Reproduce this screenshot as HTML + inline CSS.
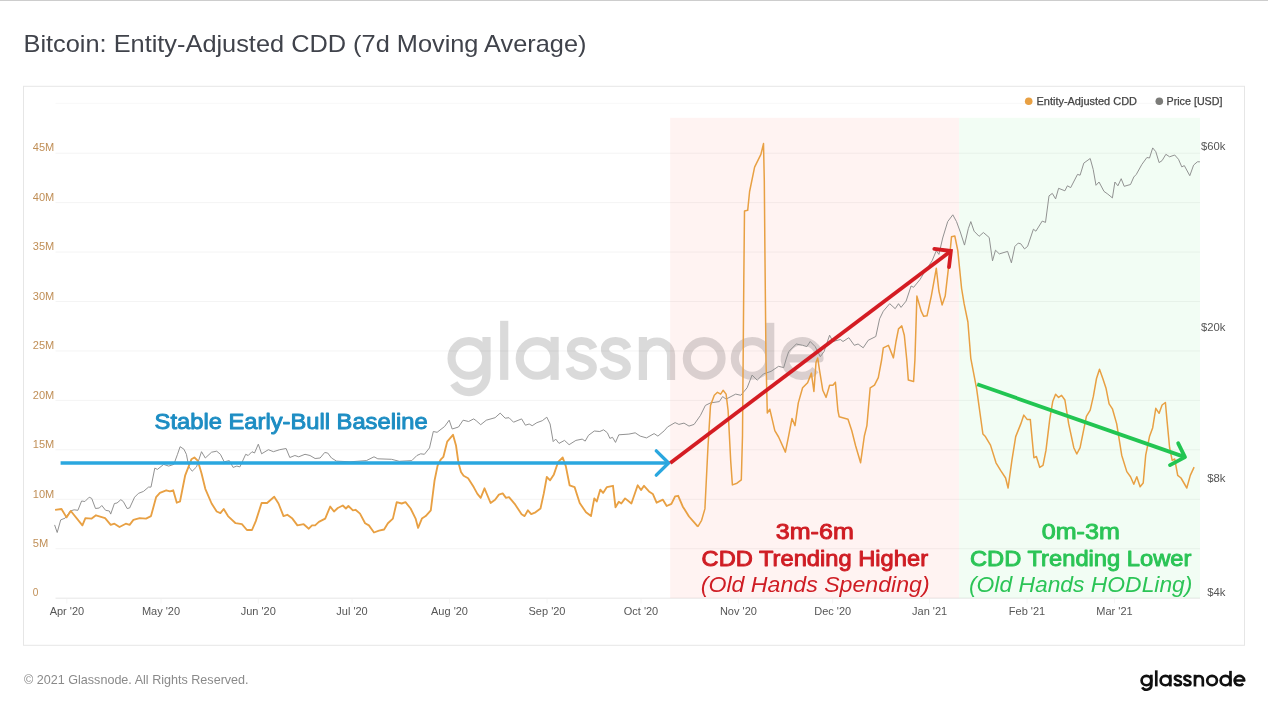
<!DOCTYPE html>
<html><head><meta charset="utf-8"><title>Bitcoin: Entity-Adjusted CDD (7d Moving Average)</title>
<style>html,body{margin:0;padding:0;background:#fff;}body{width:1268px;height:714px;overflow:hidden;font-family:"Liberation Sans",sans-serif;}svg{display:block;will-change:transform;}text{font-family:"Liberation Sans",sans-serif;}</style>
</head><body>
<svg width="1268" height="714" viewBox="0 0 1268 714">
<defs>
<g id="gn" fill="none" stroke-linecap="butt" stroke-linejoin="round">
<circle cx="468.9" cy="358.4" r="17.35"/>
<path d="M486.5,336.9 V374.5 A17.5,17.5 0 0 1 453.8,383.3"/>
<path d="M504.2,320.8 V379.9"/>
<circle cx="537.1" cy="358.4" r="17.35"/>
<path d="M554.6,336.9 V379.9"/>
<path id="gs" d="M593.5,348.5 C591.5,343.5 587,341 581.8,341 C575.5,341 571,344.5 571,349.3 C571,354.5 575.5,356.5 582,358.3 C589,360.3 592.8,362.5 592.8,367.5 C592.8,372.5 588,375.8 581.8,375.8 C575.5,375.8 571,372.5 569.5,367.5"/>
<use href="#gs" x="34"/>
<path d="M642.9,379.9 V336.9 M642.9,355.2 A14.08,14.08 0 0 1 671.05,355.2 V379.9"/>
<circle cx="704.2" cy="358.4" r="17.35"/>
<circle cx="752.2" cy="358.4" r="17.35"/>
<path d="M770.2,322.8 V379.9"/>
<path d="M785.5,358.4 H819.5 A17.35,17.35 0 1 0 815.5,369.6"/>
</g>
</defs>
<rect x="0" y="0" width="1268" height="1" fill="#cdcdcd"/>
<text x="23.5" y="51.7" font-size="23.2" fill="#40434b" textLength="563" lengthAdjust="spacingAndGlyphs">Bitcoin: Entity-Adjusted CDD (7d Moving Average)</text>
<rect x="23.5" y="86.3" width="1221" height="559" fill="#fff" stroke="#e6e6e6" stroke-width="1"/>
<rect x="670.2" y="117.8" width="288.9" height="480.4" fill="#fff3f2"/>
<rect x="959.1" y="117.8" width="240.9" height="480.4" fill="#f2fdf4"/>
<line x1="55.5" y1="103.30" x2="1200" y2="103.30" stroke="#000" stroke-opacity="0.03" stroke-width="1"/>
<line x1="55.5" y1="153.20" x2="1200" y2="153.20" stroke="#000" stroke-opacity="0.047" stroke-width="1"/>
<line x1="55.5" y1="202.64" x2="1200" y2="202.64" stroke="#000" stroke-opacity="0.047" stroke-width="1"/>
<line x1="55.5" y1="252.08" x2="1200" y2="252.08" stroke="#000" stroke-opacity="0.047" stroke-width="1"/>
<line x1="55.5" y1="301.52" x2="1200" y2="301.52" stroke="#000" stroke-opacity="0.047" stroke-width="1"/>
<line x1="55.5" y1="350.96" x2="1200" y2="350.96" stroke="#000" stroke-opacity="0.047" stroke-width="1"/>
<line x1="55.5" y1="400.40" x2="1200" y2="400.40" stroke="#000" stroke-opacity="0.047" stroke-width="1"/>
<line x1="55.5" y1="449.84" x2="1200" y2="449.84" stroke="#000" stroke-opacity="0.047" stroke-width="1"/>
<line x1="55.5" y1="499.28" x2="1200" y2="499.28" stroke="#000" stroke-opacity="0.047" stroke-width="1"/>
<line x1="55.5" y1="548.72" x2="1200" y2="548.72" stroke="#000" stroke-opacity="0.047" stroke-width="1"/>
<line x1="55.5" y1="598.16" x2="1200" y2="598.16" stroke="#000" stroke-opacity="0.1" stroke-width="1"/>
<use href="#gn" stroke="#000" opacity="0.14" stroke-width="8.2"/>
<text x="32.8" y="151.4" font-size="10.6" fill="#c08f57" textLength="21.5" lengthAdjust="spacingAndGlyphs">45M</text>
<text x="32.8" y="200.8" font-size="10.6" fill="#c08f57" textLength="21.5" lengthAdjust="spacingAndGlyphs">40M</text>
<text x="32.8" y="250.3" font-size="10.6" fill="#c08f57" textLength="21.5" lengthAdjust="spacingAndGlyphs">35M</text>
<text x="32.8" y="299.7" font-size="10.6" fill="#c08f57" textLength="21.5" lengthAdjust="spacingAndGlyphs">30M</text>
<text x="32.8" y="349.2" font-size="10.6" fill="#c08f57" textLength="21.5" lengthAdjust="spacingAndGlyphs">25M</text>
<text x="32.8" y="398.6" font-size="10.6" fill="#c08f57" textLength="21.5" lengthAdjust="spacingAndGlyphs">20M</text>
<text x="32.8" y="448.0" font-size="10.6" fill="#c08f57" textLength="21.5" lengthAdjust="spacingAndGlyphs">15M</text>
<text x="32.8" y="497.5" font-size="10.6" fill="#c08f57" textLength="21.5" lengthAdjust="spacingAndGlyphs">10M</text>
<text x="32.8" y="546.9" font-size="10.6" fill="#c08f57" textLength="15.5" lengthAdjust="spacingAndGlyphs">5M</text>
<text x="32.8" y="596.4" font-size="10.6" fill="#c08f57" textLength="5.6" lengthAdjust="spacingAndGlyphs">0</text>
<text x="1201.1" y="150.0" font-size="10.6" fill="#555" textLength="24.4" lengthAdjust="spacingAndGlyphs">$60k</text>
<text x="1201.1" y="330.7" font-size="10.6" fill="#555" textLength="24.4" lengthAdjust="spacingAndGlyphs">$20k</text>
<text x="1207.2" y="481.8" font-size="10.6" fill="#555" textLength="18.3" lengthAdjust="spacingAndGlyphs">$8k</text>
<text x="1207.2" y="595.9" font-size="10.6" fill="#555" textLength="18.3" lengthAdjust="spacingAndGlyphs">$4k</text>
<line x1="66.9" y1="599" x2="66.9" y2="603.5" stroke="#f6f6f6" stroke-width="1"/>
<text x="66.9" y="615.3" font-size="11" fill="#565656" text-anchor="middle">Apr '20</text>
<line x1="161" y1="599" x2="161" y2="603.5" stroke="#f6f6f6" stroke-width="1"/>
<text x="161" y="615.3" font-size="11" fill="#565656" text-anchor="middle">May '20</text>
<line x1="258.3" y1="599" x2="258.3" y2="603.5" stroke="#f6f6f6" stroke-width="1"/>
<text x="258.3" y="615.3" font-size="11" fill="#565656" text-anchor="middle">Jun '20</text>
<line x1="352" y1="599" x2="352" y2="603.5" stroke="#f6f6f6" stroke-width="1"/>
<text x="352" y="615.3" font-size="11" fill="#565656" text-anchor="middle">Jul '20</text>
<line x1="449.5" y1="599" x2="449.5" y2="603.5" stroke="#f6f6f6" stroke-width="1"/>
<text x="449.5" y="615.3" font-size="11" fill="#565656" text-anchor="middle">Aug '20</text>
<line x1="547" y1="599" x2="547" y2="603.5" stroke="#f6f6f6" stroke-width="1"/>
<text x="547" y="615.3" font-size="11" fill="#565656" text-anchor="middle">Sep '20</text>
<line x1="641" y1="599" x2="641" y2="603.5" stroke="#f6f6f6" stroke-width="1"/>
<text x="641" y="615.3" font-size="11" fill="#565656" text-anchor="middle">Oct '20</text>
<line x1="738.4" y1="599" x2="738.4" y2="603.5" stroke="#f6f6f6" stroke-width="1"/>
<text x="738.4" y="615.3" font-size="11" fill="#565656" text-anchor="middle">Nov '20</text>
<line x1="832.7" y1="599" x2="832.7" y2="603.5" stroke="#f6f6f6" stroke-width="1"/>
<text x="832.7" y="615.3" font-size="11" fill="#565656" text-anchor="middle">Dec '20</text>
<line x1="929.6" y1="599" x2="929.6" y2="603.5" stroke="#f6f6f6" stroke-width="1"/>
<text x="929.6" y="615.3" font-size="11" fill="#565656" text-anchor="middle">Jan '21</text>
<line x1="1027" y1="599" x2="1027" y2="603.5" stroke="#f6f6f6" stroke-width="1"/>
<text x="1027" y="615.3" font-size="11" fill="#565656" text-anchor="middle">Feb '21</text>
<line x1="1114.5" y1="599" x2="1114.5" y2="603.5" stroke="#f6f6f6" stroke-width="1"/>
<text x="1114.5" y="615.3" font-size="11" fill="#565656" text-anchor="middle">Mar '21</text>
<circle cx="1028.7" cy="101.3" r="3.8" fill="#e8a043"/>
<text x="1036.5" y="105" font-size="10.4" fill="#444" stroke="#444" stroke-width="0.25" textLength="100.5" lengthAdjust="spacingAndGlyphs">Entity-Adjusted CDD</text>
<circle cx="1159.3" cy="101.2" r="3.8" fill="#7b7b78"/>
<text x="1166.5" y="105" font-size="10.4" fill="#444" stroke="#444" stroke-width="0.25" textLength="56" lengthAdjust="spacingAndGlyphs">Price [USD]</text>
<polyline points="54.6,524.9 57.2,532.5 60.7,519.9 65.2,518.1 70.3,511.0 74.1,509.8 77.9,510.3 81.6,501.0 84.9,501.5 89.2,497.2 91.7,498.4 95.5,508.5 99.3,508.0 101.8,505.5 105.6,510.3 109.4,511.0 110.7,514.1 114.4,503.5 117.0,503.0 120.8,499.7 123.3,501.5 127.1,508.5 129.6,508.0 134.6,497.2 138.4,493.4 143.5,491.4 148.5,487.1 151.0,487.1 154.8,468.1 157.4,469.4 163.7,464.4 168.7,466.1 173.8,464.4 177.5,454.3 180.1,446.7 183.9,449.2 186.4,454.3 188.9,466.9 192.2,471.2 196.5,466.9 201.5,451.7 205.3,458.0 211.6,452.2 216.7,451.2 220.4,454.3 224.2,461.8 229.3,460.6 233.1,467.4 236.8,466.1 239.9,466.9 245.7,454.3 248.2,455.5 252.0,451.7 254.5,453.0 258.3,444.2 261.6,453.8 268.4,449.7 273.4,451.7 279.7,449.7 286.1,448.5 289.8,457.5 294.9,455.5 298.7,456.8 305.0,454.3 310.0,455.5 315.1,458.5 320.1,458.0 324.7,452.5 327.7,453.0 331.5,458.0 336.5,461.1 350.0,461.8 366.4,460.6 374.0,456.8 377.8,458.8 391.6,459.3 399.2,461.3 411.8,460.6 416.9,455.5 420.7,453.8 424.4,454.3 429.5,447.9 433.3,431.5 437.1,432.3 444.6,426.5 449.2,420.2 452.2,429.0 458.5,427.0 463.1,420.2 468.6,421.5 473.7,418.9 476.2,420.7 480.7,424.7 486.3,420.2 495.1,417.7 500.2,413.1 505.2,418.2 509.0,417.7 513.5,422.2 521.6,418.9 525.4,425.2 529.2,424.0 532.2,425.7 536.8,422.7 542.3,420.7 546.8,417.2 550.1,424.0 553.2,441.6 555.7,439.1 559.0,443.4 564.5,440.4 569.1,444.7 575.9,440.4 582.2,439.1 585.2,441.1 588.5,435.3 594.3,431.0 599.8,431.5 603.6,429.8 607.4,432.8 609.9,438.4 612.5,437.3 615.5,442.4 618.8,434.8 628.9,434.1 635.2,432.8 640.2,436.1 646.5,437.9 654.1,433.6 657.9,436.1 664.2,430.8 667.6,426.9 675.1,422.6 678.9,424.4 684.0,423.1 689.0,426.1 694.1,424.4 700.4,415.5 705.4,405.4 710.5,402.9 719.3,401.6 722.6,396.6 726.1,399.1 735.7,394.1 740.8,395.3 747.1,387.8 752.1,375.1 757.2,380.2 763.5,373.9 771.0,371.4 778.6,366.3 783.7,367.6 786.2,359.0 788.7,351.6 796.3,344.0 802.6,345.3 806.9,346.6 810.2,341.5 815.2,346.6 820.3,356.7 824.0,351.6 829.6,335.2 832.9,341.5 840.4,339.5 843.0,341.5 848.8,337.7 854.3,345.3 858.1,344.0 863.2,347.8 868.2,340.3 875.8,336.5 879.6,318.8 883.3,311.2 889.7,303.7 895.2,308.7 898.5,303.7 901.0,307.4 906.1,301.1 911.1,286.0 913.6,287.3 919.9,279.7 923.7,273.4 932.1,260.8 936.3,250.7 938.9,254.4 942.7,238.0 947.7,221.6 952.8,214.8 956.5,221.6 960.3,232.0 964.5,245.1 968.3,228.7 970.8,221.6 974.1,231.2 979.1,236.3 983.4,232.5 989.2,237.5 992.5,260.8 995.5,250.2 999.3,253.9 1007.6,251.4 1011.4,262.8 1014.9,246.4 1018.2,243.1 1020.8,243.8 1024.5,248.9 1027.6,246.4 1033.4,229.2 1035.9,231.2 1042.2,221.1 1045.5,222.4 1049.0,195.9 1052.3,193.4 1055.6,198.9 1058.6,188.3 1064.9,190.8 1067.4,185.8 1070.7,187.6 1077.5,174.4 1080.1,175.2 1083.8,163.1 1090.2,158.5 1093.2,169.4 1096.0,185.3 1099.0,182.0 1104.0,191.4 1107.8,194.1 1112.4,197.9 1114.9,182.0 1117.9,185.8 1121.2,178.7 1124.2,186.3 1130.5,184.5 1133.8,177.0 1136.3,174.4 1141.9,164.4 1146.9,157.5 1149.5,158.0 1152.7,147.9 1155.8,151.7 1159.1,162.6 1162.1,160.6 1165.9,154.3 1169.6,156.8 1174.7,155.0 1178.5,159.3 1181.8,166.9 1184.3,165.6 1189.8,175.7 1193.6,165.1 1197.4,161.8 1199.9,161.8" fill="none" stroke="#8c8c8c" stroke-width="0.95" stroke-linejoin="round"/>
<polyline points="55.1,509.8 61.5,509.0 66.5,517.4 70.8,511.0 82.4,525.4 85.4,518.1 91.7,518.6 96.0,515.3 105.1,518.1 110.7,524.9 114.4,523.7 119.5,527.0 125.8,523.7 129.6,524.9 133.4,519.9 139.7,518.1 146.0,518.6 151.0,516.1 156.1,497.2 159.9,492.9 166.2,490.3 170.0,491.4 173.2,490.3 176.8,502.7 180.0,501.5 185.1,475.7 191.4,459.3 194.4,457.5 197.7,460.6 201.5,473.2 205.3,488.8 211.6,503.5 216.7,511.5 220.4,513.1 223.7,509.0 228.0,516.1 235.6,523.2 241.9,524.2 246.9,530.0 252.0,530.0 255.8,521.1 261.6,503.0 267.1,503.0 274.2,496.7 278.5,503.5 283.5,516.1 287.3,514.8 292.4,518.6 297.4,525.4 303.7,524.2 308.8,528.7 312.0,525.4 315.1,525.4 318.9,521.9 325.2,518.6 330.2,506.5 334.0,511.5 337.8,508.0 342.8,505.5 345.9,508.5 348.4,506.0 352.9,510.3 355.5,509.8 360.0,513.6 365.1,523.2 368.9,525.4 374.0,532.5 379.0,530.7 384.1,529.5 387.9,523.2 392.9,518.6 396.7,502.2 401.7,503.5 405.5,502.2 410.6,508.5 415.6,518.6 418.1,527.9 421.9,518.6 425.7,516.1 430.8,510.3 434.5,480.8 437.6,465.6 440.9,459.3 443.4,456.8 447.2,441.6 450.4,437.9 453.0,434.8 456.0,445.4 458.5,463.1 461.0,471.9 463.6,475.7 468.1,478.2 473.7,487.1 477.4,493.9 480.7,497.9 484.5,488.3 490.6,503.0 495.1,499.7 498.9,494.6 502.7,493.4 506.0,497.9 509.0,497.2 515.3,504.7 521.6,514.3 524.6,516.1 527.9,510.3 531.2,514.1 535.5,512.3 540.5,508.5 543.8,493.4 546.8,477.0 550.1,480.3 553.9,474.4 558.2,461.8 562.7,457.5 565.8,466.1 569.6,485.3 574.6,487.1 579.7,503.0 586.0,512.3 591.0,516.1 594.3,498.4 596.8,501.5 600.3,489.6 603.1,492.9 606.9,487.1 613.0,485.8 615.5,507.3 618.8,501.7 621.3,503.5 625.1,498.4 631.4,503.5 637.7,485.3 641.0,490.1 644.0,485.8 649.0,491.4 652.8,493.9 656.6,502.7 662.9,499.7 666.7,506.0 671.4,503.8 675.1,496.3 678.2,495.8 682.7,506.4 689.0,516.5 697.9,526.6" fill="none" stroke="#e8a043" stroke-width="1.85" stroke-linejoin="round"/>
<polyline points="697.9,526.6 701.6,520.3 704.9,508.9 707.9,448.3 710.5,405.4 714.3,395.3 717.5,392.3 720.6,394.1 723.1,390.3 726.1,394.1 728.1,410.5 730.7,460.9 732.4,484.9 737.0,483.2 741.3,479.9 742.5,435.7 743.8,281.0 744.5,211.0 747.7,210.3 749.6,191.5 754.6,167.1 760.9,154.4 763.5,143.6 764.3,181.0 765.0,260.0 766.0,360.0 767.3,413.0 769.8,409.2 774.8,430.7 778.6,437.0 785.4,452.1 788.7,435.7 792.0,418.5 795.0,425.6 798.3,402.9 802.6,387.8 807.6,382.7 811.4,373.1 813.9,391.5 816.0,362.5 817.7,358.0 819.5,370.1 822.8,390.3 826.1,397.4 829.6,385.2 832.9,385.2 835.4,382.2 837.9,410.5 839.2,416.8 848.0,419.3 851.8,430.7 855.6,445.8 860.6,462.7 864.4,435.7 866.9,425.6 870.2,387.8 874.5,385.2 878.3,377.7 881.6,360.0 883.3,347.8 888.4,345.3 893.4,357.9 896.0,341.5 898.5,328.9 901.8,325.9 904.3,335.2 906.8,360.0 908.3,380.0 913.6,381.5 914.9,360.0 916.9,296.1 921.2,311.2 923.7,316.3 927.0,315.8 931.3,296.1 936.3,268.3 938.9,291.0 942.1,304.9 945.2,296.1 949.0,263.3 951.5,236.8 954.8,236.0 957.8,250.7 961.6,288.5 964.1,303.7 967.9,322.0 970.8,358.3 976.6,388.6 982.9,434.0 985.4,436.6 990.5,445.1 996.0,462.8 1000.6,470.4 1005.6,478.0 1008.1,488.0 1011.9,460.3 1015.7,436.6 1020.8,423.9 1023.8,415.1 1027.1,419.4 1030.3,419.4 1033.9,457.8 1036.4,456.5 1039.7,467.4 1043.0,465.3 1046.0,450.2 1049.8,418.9 1052.8,401.2 1055.6,394.2 1058.6,397.4 1061.6,395.4 1064.9,400.0 1068.7,423.9 1073.8,447.7 1076.8,454.0 1080.1,447.7 1086.4,416.4 1090.2,410.1 1093.4,396.2 1096.5,378.5 1099.5,369.2 1102.8,378.5 1106.1,388.6 1109.1,403.8 1112.4,408.8 1116.7,423.9 1121.7,455.2 1126.8,471.6 1130.5,476.7 1133.8,484.3 1136.8,476.7 1140.1,486.8 1143.2,483.0 1145.7,455.2 1149.5,436.6 1152.7,427.7 1155.8,408.3 1159.1,413.3 1162.1,405.0 1165.4,402.5 1167.1,421.4 1169.6,447.7 1172.2,460.3 1174.7,459.0 1177.7,475.4 1181.0,478.0 1186.8,488.0 1190.3,475.4 1194.1,467.1" fill="none" stroke="#e8a043" stroke-width="1.5" stroke-linejoin="round"/>
<g stroke="#2aa7df" fill="none" stroke-width="3.4">
<line x1="60.6" y1="463" x2="667.5" y2="463"/>
<polyline points="656.3,450.9 668.6,463 656.3,475.1" stroke-linejoin="miter" stroke-linecap="round"/>
</g>
<text x="154.6" y="428.6" font-size="22" fill="#1d8dc3" stroke="#1d8dc3" stroke-width="0.95" stroke-linejoin="round" textLength="273" lengthAdjust="spacingAndGlyphs">Stable Early-Bull Baseline</text>
<g stroke="#d41c23" fill="none" stroke-width="3.8">
<line x1="670.3" y1="463" x2="950.8" y2="251.1"/>
<polyline points="934.3,248.9 950.9,251 949,267" stroke-linejoin="miter" stroke-linecap="round"/>
</g>
<g fill="#cf1d24" stroke="#cf1d24" stroke-width="0" stroke-linejoin="round" text-anchor="middle">
<text x="814.8" y="539.3" font-size="22.3" stroke-width="0.95" textLength="78" lengthAdjust="spacingAndGlyphs">3m-6m</text>
<text x="814.8" y="565.8" font-size="22.3" stroke-width="0.95" textLength="226.5" lengthAdjust="spacingAndGlyphs">CDD Trending Higher</text>
<text x="815.2" y="592" font-size="22.3" font-style="italic" textLength="229" lengthAdjust="spacingAndGlyphs">(Old Hands Spending)</text>
</g>
<g stroke="#22c552" fill="none" stroke-width="3.8">
<line x1="977.2" y1="384.3" x2="1185" y2="457.1"/>
<polyline points="1178.2,443.3 1185,457.1 1170,465.1" stroke-linejoin="round" stroke-linecap="round"/>
</g>
<g fill="#2bc456" stroke="#2bc456" stroke-width="0" stroke-linejoin="round" text-anchor="middle">
<text x="1080.8" y="539.3" font-size="22.3" stroke-width="0.95" textLength="78" lengthAdjust="spacingAndGlyphs">0m-3m</text>
<text x="1080.7" y="565.8" font-size="22.3" stroke-width="0.95" textLength="221.5" lengthAdjust="spacingAndGlyphs">CDD Trending Lower</text>
<text x="1080.7" y="592" font-size="22.3" font-style="italic" textLength="223.5" lengthAdjust="spacingAndGlyphs">(Old Hands HODLing)</text>
</g>
<text x="24" y="684" font-size="12.4" fill="#8a8a8a" textLength="224.6" lengthAdjust="spacingAndGlyphs">© 2021 Glassnode. All Rights Reserved.</text>
<use href="#gn" stroke="#111" stroke-width="9.6" transform="translate(1015.60,583.06) scale(0.279,0.2720)"/>
</svg>
</body></html>
